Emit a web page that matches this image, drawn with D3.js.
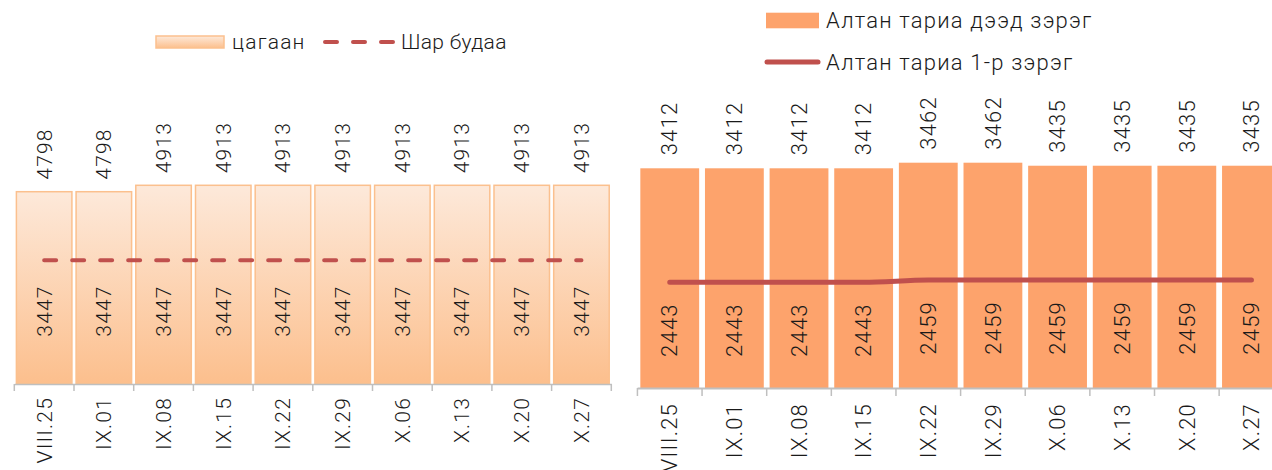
<!DOCTYPE html>
<meta charset="utf-8">
<style>
body { margin: 0; background: #fff; }
svg { display: block; font-family: Roboto, sans-serif; font-weight: 300; letter-spacing: 1.2px; }
text { fill: #1a1a1a; }
</style>
<body>
<svg width="1272" height="470"></svg>
<script src="https://cdn.jsdelivr.net/npm/d3@7"></script>
<script>
// data
var categories = ["VIII.25", "IX.01", "IX.08", "IX.15", "IX.22", "IX.29", "X.06", "X.13", "X.20", "X.27"];
var tsagaan = [4798, 4798, 4913, 4913, 4913, 4913, 4913, 4913, 4913, 4913];
var sharBudaa = [3447, 3447, 3447, 3447, 3447, 3447, 3447, 3447, 3447, 3447];
var altanDeed = [3412, 3412, 3412, 3412, 3462, 3462, 3435, 3435, 3435, 3435];
var altan1 = [2443, 2443, 2443, 2443, 2459, 2459, 2459, 2459, 2459, 2459];

var svg = d3.select("svg");
var fs = 21;

var defs = svg.append("defs");
var grad = defs.append("linearGradient").attr("id", "peach")
    .attr("x1", 0).attr("y1", 0).attr("x2", 0).attr("y2", 1);
grad.append("stop").attr("offset", "0%").attr("stop-color", "#fde9da");
grad.append("stop").attr("offset", "100%").attr("stop-color", "#fcbf8d");

// ---------- left chart ----------
var xL = d3.scaleBand().domain(categories).range([14.3, 611.3]).paddingInner(0.07).paddingOuter(0.035);
var yL = d3.scaleLinear().domain([1346, 4913]).range([384, 185.3]);
var yL2 = d3.scaleLinear().domain([0, 3447]).range([384, 260.3]);

var left = svg.append("g");

left.selectAll("rect.bar").data(tsagaan).enter().append("rect")
    .attr("class", "bar")
    .attr("x", function(d, i) { return xL(categories[i]); })
    .attr("y", function(d) { return yL(d); })
    .attr("width", xL.bandwidth())
    .attr("height", function(d) { return yL.range()[0] - yL(d); })
    .attr("fill", "url(#peach)")
    .attr("stroke", "#fbc08e")
    .attr("stroke-width", 1.5);

var axL = left.append("g").attr("transform", "translate(0," + yL.range()[0] + ")")
    .call(d3.axisBottom(xL).tickSize(0).tickFormat(""));
axL.select(".domain").attr("stroke", "#bfbfbf").attr("stroke-width", 1.5);
var edgesL = xL.domain().map(function(c) { return xL(c) - xL.step() * xL.paddingInner() / 2; });
edgesL.push(xL.range()[1]);
axL.selectAll("line.edge").data(edgesL).enter().append("line")
    .attr("class", "edge")
    .attr("x1", function(d) { return d; }).attr("x2", function(d) { return d; })
    .attr("y1", 0).attr("y2", 7)
    .attr("stroke", "#bfbfbf").attr("stroke-width", 1.5);

left.selectAll("text.cat").data(categories).enter().append("text")
    .attr("class", "cat")
    .attr("transform", function(d) { return "translate(" + (xL(d) + xL.bandwidth() / 2) + "," + (yL.range()[0] + 13) + ") rotate(-90)"; })
    .attr("dy", "0.35em")
    .attr("text-anchor", "end")
    .style("font-size", fs + "px")
    .text(function(d) { return d; });

left.selectAll("text.top").data(tsagaan).enter().append("text")
    .attr("class", "top")
    .attr("transform", function(d, i) { return "translate(" + (xL(categories[i]) + xL.bandwidth() / 2) + "," + (yL(d) - 12) + ") rotate(-90)"; })
    .attr("dy", "0.35em")
    .style("font-size", fs + "px")
    .text(function(d) { return d; });

var lineL = d3.line()
    .x(function(d, i) { return xL(categories[i]) + xL.bandwidth() / 2; })
    .y(function(d) { return yL2(d); });
left.append("path").datum(sharBudaa)
    .attr("d", lineL)
    .attr("fill", "none")
    .attr("stroke", "#c0504d")
    .attr("stroke-width", 4)
    .attr("stroke-linecap", "round")
    .attr("stroke-dasharray", "12,16");

left.selectAll("text.low").data(sharBudaa).enter().append("text")
    .attr("class", "low")
    .attr("transform", function(d, i) { return "translate(" + (xL(categories[i]) + xL.bandwidth() / 2) + "," + (yL2(d) + 25) + ") rotate(-90)"; })
    .attr("dy", "0.35em")
    .attr("text-anchor", "end")
    .style("font-size", fs + "px")
    .text(function(d) { return d; });

// left legend
var legL = left.append("g");
legL.append("rect").attr("x", 156).attr("y", 36).attr("width", 68).attr("height", 12)
    .attr("fill", "url(#peach)").attr("stroke", "#fbc08e").attr("stroke-width", 1.5);
legL.append("text").attr("x", 232).attr("y", 42).attr("dy", "0.35em")
    .style("font-size", fs + "px").text("цагаан");
legL.append("line").attr("x1", 325).attr("x2", 394).attr("y1", 42).attr("y2", 42)
    .attr("stroke", "#c0504d").attr("stroke-width", 4)
    .attr("stroke-linecap", "round").attr("stroke-dasharray", "12,16");
legL.append("text").attr("x", 401).attr("y", 42).attr("dy", "0.35em")
    .style("font-size", fs + "px").style("letter-spacing", "0.3px").text("Шар будаа");

// ---------- right chart ----------
var xR = d3.scaleBand().domain(categories).range([637.1, 1284.1]).paddingInner(0.09).paddingOuter(0.05);
var yR = d3.scaleLinear().domain([1450, 3462]).range([388, 162.7]);
var yR2 = d3.scaleLinear().domain([2443, 2459]).range([282.3, 280]);

var right = svg.append("g");

right.selectAll("rect.bar").data(altanDeed).enter().append("rect")
    .attr("class", "bar")
    .attr("x", function(d, i) { return xR(categories[i]); })
    .attr("y", function(d) { return yR(d); })
    .attr("width", xR.bandwidth())
    .attr("height", function(d) { return yR.range()[0] - yR(d); })
    .attr("fill", "#fda36c");

var axR = right.append("g").attr("transform", "translate(0," + yR.range()[0] + ")")
    .call(d3.axisBottom(xR).tickSize(0).tickFormat(""));
axR.select(".domain").attr("stroke", "#bfbfbf").attr("stroke-width", 2);
var edgesR = xR.domain().map(function(c) { return xR(c) - xR.step() * xR.paddingInner() / 2; });
axR.selectAll("line.edge").data(edgesR).enter().append("line")
    .attr("class", "edge")
    .attr("x1", function(d) { return d; }).attr("x2", function(d) { return d; })
    .attr("y1", 0).attr("y2", 8)
    .attr("stroke", "#bfbfbf").attr("stroke-width", 1.5);

right.selectAll("text.cat").data(categories).enter().append("text")
    .attr("class", "cat")
    .attr("transform", function(d) { return "translate(" + (xR(d) + xR.bandwidth() / 2) + "," + (yR.range()[0] + 15) + ") rotate(-90)"; })
    .attr("dy", "0.35em")
    .attr("text-anchor", "end")
    .style("font-size", (fs + 1) + "px")
    .text(function(d) { return d; });

right.selectAll("text.top").data(altanDeed).enter().append("text")
    .attr("class", "top")
    .attr("transform", function(d, i) { return "translate(" + (xR(categories[i]) + xR.bandwidth() / 2) + "," + (yR(d) - 13) + ") rotate(-90)"; })
    .attr("dy", "0.35em")
    .style("font-size", (fs + 1) + "px")
    .text(function(d) { return d; });

var lineR = d3.line()
    .curve(d3.curveMonotoneX)
    .x(function(d, i) { return xR(categories[i]) + xR.bandwidth() / 2; })
    .y(function(d) { return yR2(d); });
right.append("path").datum(altan1)
    .attr("d", lineR)
    .attr("fill", "none")
    .attr("stroke", "#c0504d")
    .attr("stroke-width", 5)
    .attr("stroke-linecap", "round");

right.selectAll("text.low").data(altan1).enter().append("text")
    .attr("class", "low")
    .attr("transform", function(d, i) { return "translate(" + (xR(categories[i]) + xR.bandwidth() / 2) + "," + (yR2(d) + 21) + ") rotate(-90)"; })
    .attr("dy", "0.35em")
    .attr("text-anchor", "end")
    .style("font-size", (fs + 1) + "px")
    .text(function(d) { return d; });

// right legend
var legR = right.append("g");
legR.append("rect").attr("x", 766).attr("y", 12.7).attr("width", 53).attr("height", 15.6)
    .attr("fill", "#fda36c");
legR.append("text").attr("x", 826).attr("y", 20.5).attr("dy", "0.35em")
    .style("font-size", "22px").text("Алтан тариа дээд зэрэг");
legR.append("line").attr("x1", 767).attr("x2", 818).attr("y1", 62).attr("y2", 62)
    .attr("stroke", "#c0504d").attr("stroke-width", 5).attr("stroke-linecap", "round");
legR.append("text").attr("x", 826).attr("y", 62).attr("dy", "0.35em")
    .style("font-size", "22px").text("Алтан тариа 1-р зэрэг");
</script>
</body>
